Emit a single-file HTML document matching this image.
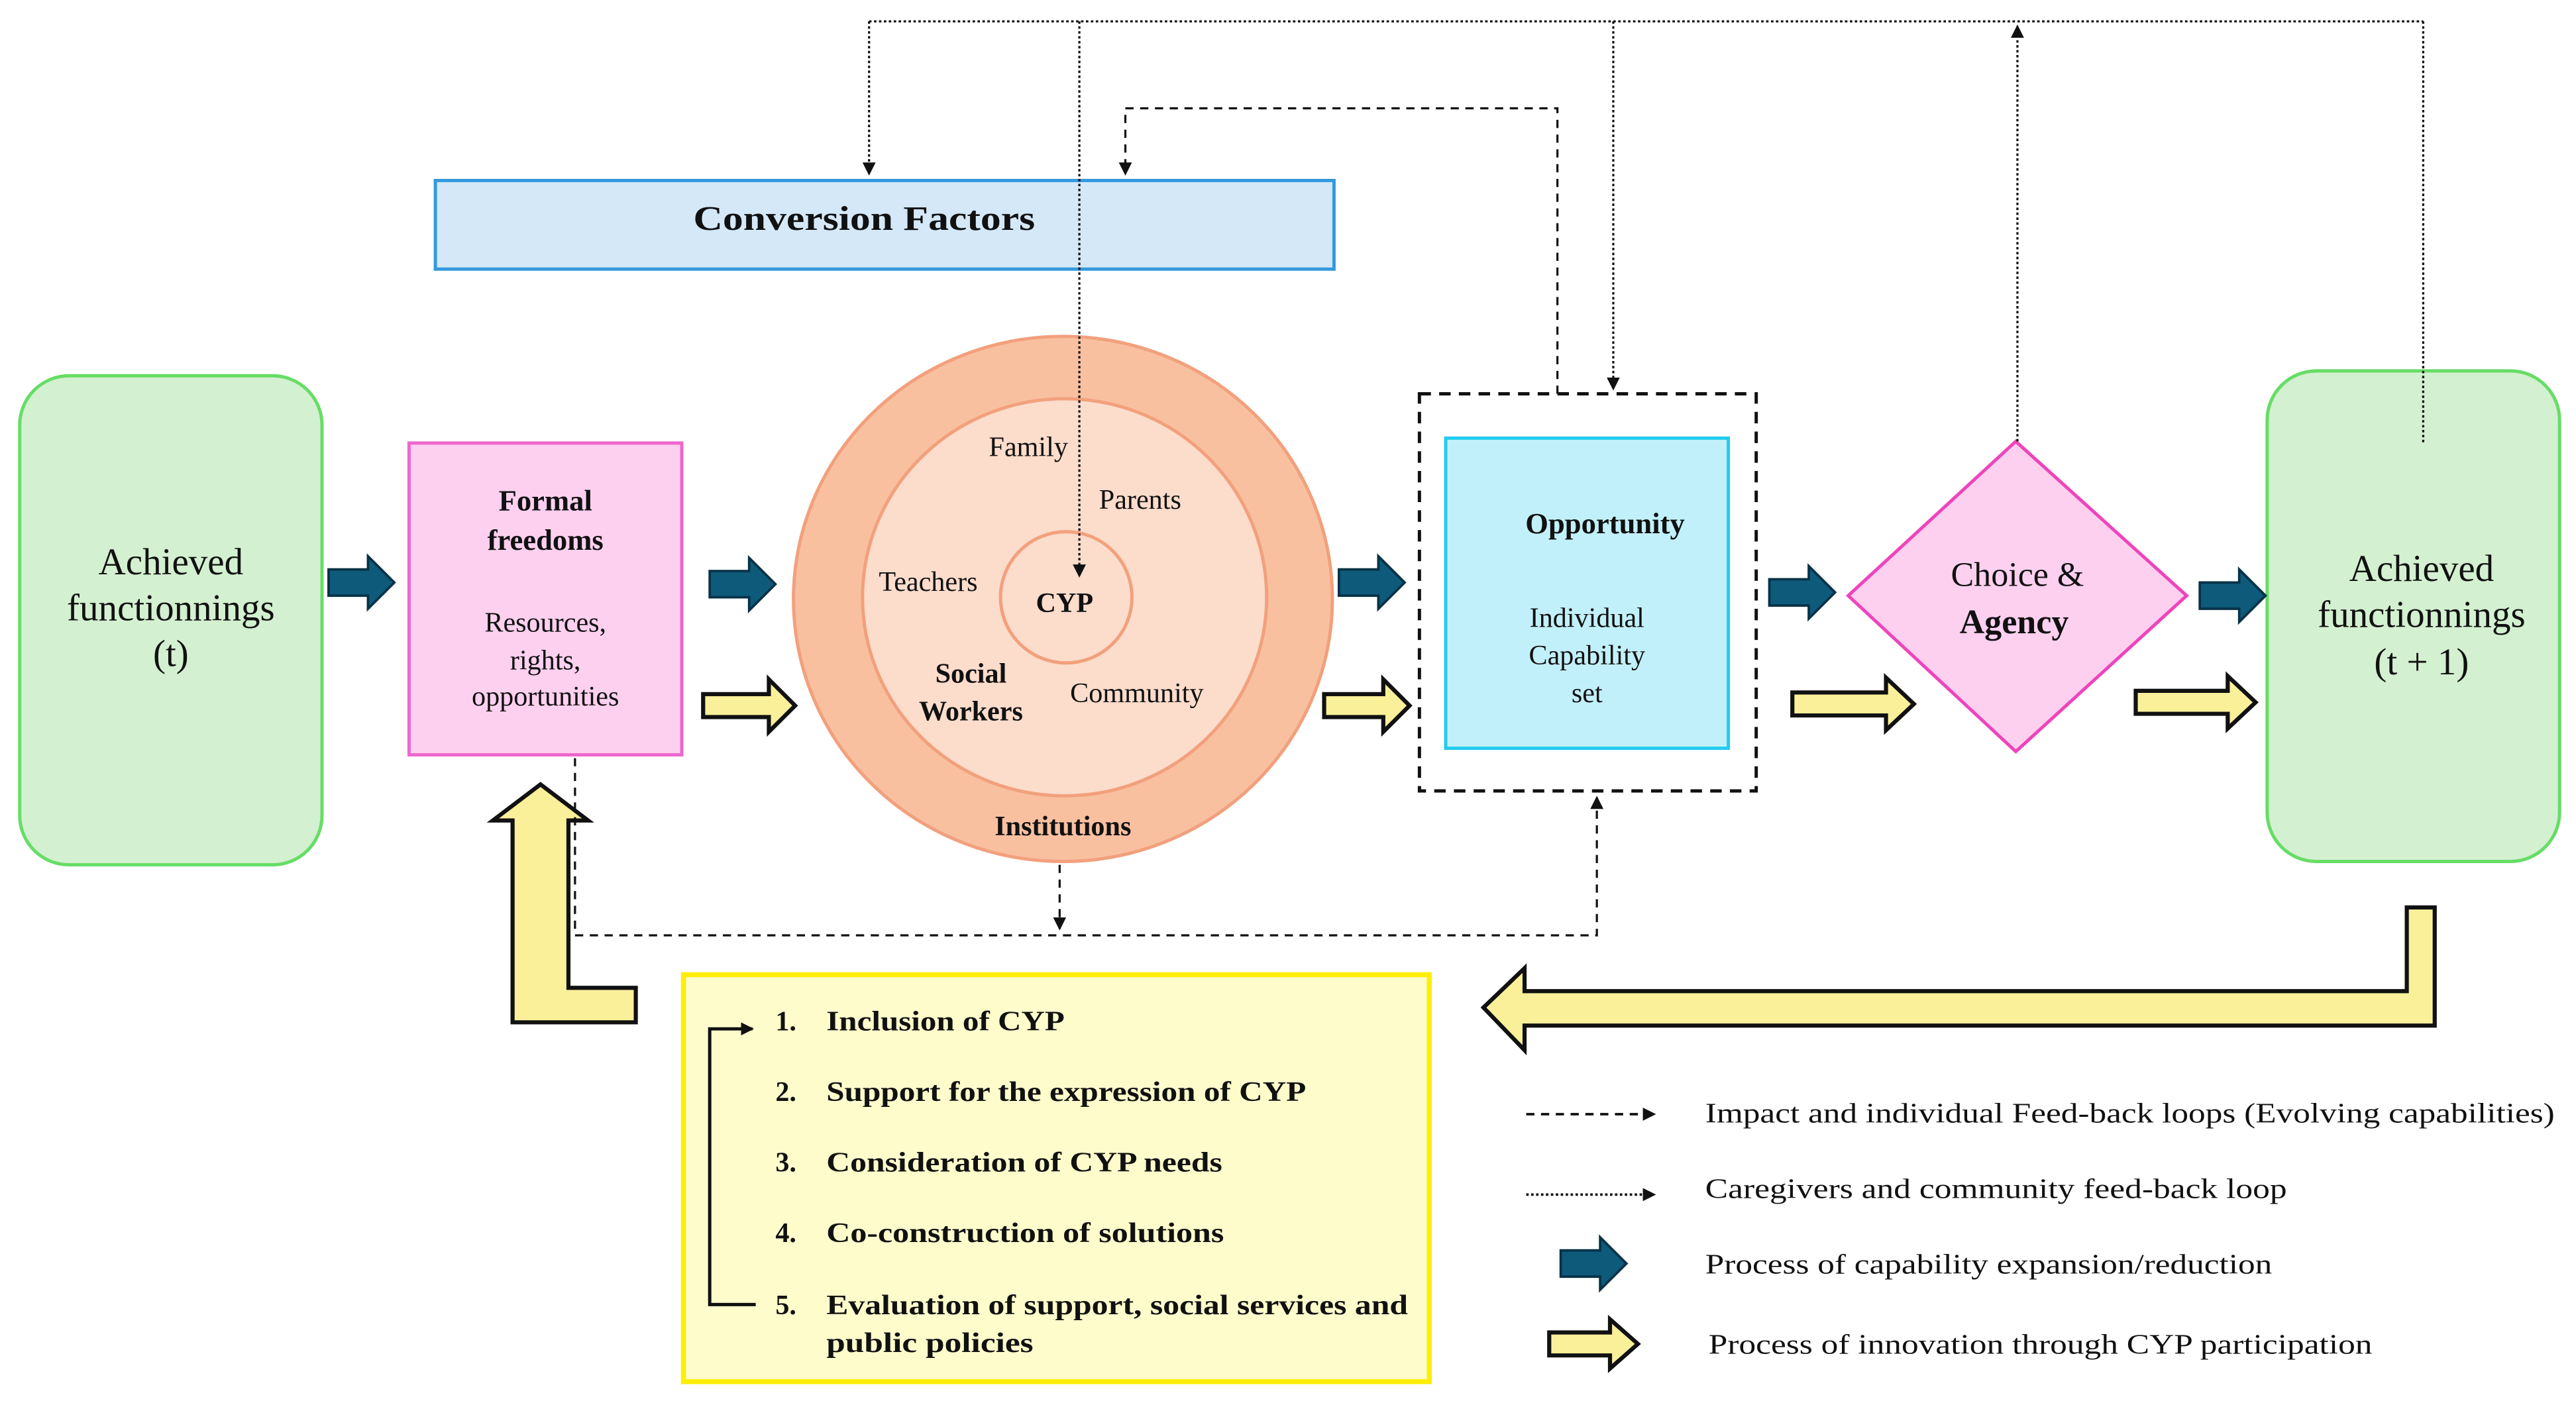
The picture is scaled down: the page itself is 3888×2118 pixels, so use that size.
<!DOCTYPE html>
<html><head><meta charset="utf-8"><style>
html,body{margin:0;padding:0;background:#fff;}
svg{display:block;}
text{font-family:"Liberation Serif","DejaVu Serif",serif;fill:#111;}
</style></head><body>
<svg width="3888" height="2118" viewBox="0 0 1568 855" preserveAspectRatio="none" xmlns="http://www.w3.org/2000/svg">
<defs>
<marker id="ah" markerWidth="8" markerHeight="8" refX="7" refY="4" orient="auto" markerUnits="userSpaceOnUse"><path d="M0,0 L8,4 L0,8 Z" fill="#111"/></marker>
<g id="barrow"><path d="M0,-8 L24,-8 L24,-16 L40,0 L24,16 L24,8 L0,8 Z" fill="#0e5a7a" stroke="#073247" stroke-width="1.5"/></g>
</defs>
<rect x="12" y="229" width="184" height="298" rx="30" fill="#d3f0d0" stroke="#66dd66" stroke-width="2"/>
<text x="104" y="350" font-size="23" text-anchor="middle">Achieved</text>
<text x="104" y="378" font-size="23" text-anchor="middle">functionnings</text>
<text x="104" y="406" font-size="23" text-anchor="middle">(t)</text>

<rect x="249" y="270" width="166" height="190" fill="#fdd0f0" stroke="#ee66cc" stroke-width="2"/>
<text x="332" y="311" font-size="18" font-weight="bold" text-anchor="middle">Formal</text>
<text x="332" y="335" font-size="18" font-weight="bold" text-anchor="middle">freedoms</text>
<text x="332" y="385" font-size="17" text-anchor="middle">Resources,</text>
<text x="332" y="408" font-size="17" text-anchor="middle">rights,</text>
<text x="332" y="430" font-size="17" text-anchor="middle">opportunities</text>

<rect x="265" y="110" width="547" height="54" fill="#d4e8f8" stroke="#3399dd" stroke-width="2"/>
<text x="422" y="140" font-size="21" font-weight="bold" textLength="208" lengthAdjust="spacingAndGlyphs">Conversion Factors</text>

<ellipse cx="647" cy="365" rx="164" ry="160" fill="#f9c0a0" stroke="#f2a07c" stroke-width="2"/>
<ellipse cx="648" cy="364" rx="123" ry="121" fill="#fcdccb" stroke="#f2a07c" stroke-width="2"/>
<circle cx="649" cy="364" r="40" fill="#fcdccb" stroke="#f2a07c" stroke-width="2"/>
<text x="648" y="373" font-size="17" font-weight="bold" text-anchor="middle">CYP</text>
<text x="626" y="278" font-size="17" text-anchor="middle">Family</text>
<text x="694" y="310" font-size="17" text-anchor="middle">Parents</text>
<text x="565" y="360" font-size="17" text-anchor="middle">Teachers</text>
<text x="591" y="416" font-size="17" font-weight="bold" text-anchor="middle">Social</text>
<text x="591" y="439" font-size="17" font-weight="bold" text-anchor="middle">Workers</text>
<text x="692" y="428" font-size="17" text-anchor="middle">Community</text>
<text x="647" y="509" font-size="17" font-weight="bold" text-anchor="middle">Institutions</text>

<rect x="864" y="240" width="205" height="242" fill="none" stroke="#111" stroke-width="2" stroke-dasharray="7,5"/>
<rect x="880" y="267" width="172" height="189" fill="#c2f0fa" stroke="#22ccee" stroke-width="2"/>
<text x="977" y="325" font-size="18" font-weight="bold" text-anchor="middle">Opportunity</text>
<text x="966" y="382" font-size="17" text-anchor="middle">Individual</text>
<text x="966" y="405" font-size="17" text-anchor="middle">Capability</text>
<text x="966" y="428" font-size="17" text-anchor="middle">set</text>

<path d="M1227,269 L1331,363 L1227,458 L1125,363 Z" fill="#fdd0f0" stroke="#ee44bb" stroke-width="2"/>
<text x="1228" y="357" font-size="21" text-anchor="middle">Choice &amp;</text>
<text x="1226" y="386" font-size="21" font-weight="bold" text-anchor="middle">Agency</text>

<rect x="1380" y="226" width="178" height="299" rx="30" fill="#d3f0d0" stroke="#66dd66" stroke-width="2"/>
<text x="1474" y="354" font-size="23" text-anchor="middle">Achieved</text>
<text x="1474" y="382" font-size="23" text-anchor="middle">functionnings</text>
<text x="1474" y="411" font-size="23" text-anchor="middle">(t + 1)</text>

<use href="#barrow" x="200" y="355"/>
<use href="#barrow" x="432" y="356"/>
<use href="#barrow" x="815" y="355"/>
<use href="#barrow" x="1077" y="361"/>
<use href="#barrow" x="1339" y="363"/>
<g fill="#faf09a" stroke="#111" stroke-width="2.5">
<path d="M428,423 L468,423 L468,414 L484,430 L468,446 L468,437 L428,437 Z"/>
<path d="M806,423 L842,423 L842,414 L858,430 L842,446 L842,437 L806,437 Z"/>
<path d="M1091,422 L1148,422 L1148,413 L1165,429 L1148,445 L1148,436 L1091,436 Z"/>
<path d="M1300,421 L1356,421 L1356,412 L1373,428 L1356,444 L1356,435 L1300,435 Z"/>
<path d="M387,602 L387,623 L312,623 L312,500 L300,500 L329,478 L358,500 L346,500 L346,602 Z"/>
<path d="M1482,553 L1482,625 L928,625 L928,640 L903,614 L928,590 L928,604 L1465,604 L1465,553 Z"/>
</g>
<rect x="416" y="594" width="454" height="248" fill="#fffccc" stroke="#ffee00" stroke-width="3"/>
<path d="M460,795 L432,795 L432,627 L458,627" fill="none" stroke="#111" stroke-width="2" marker-end="url(#ah)"/>
<g font-size="17" font-weight="bold" lengthAdjust="spacingAndGlyphs">
<text x="472" y="628">1.</text><text x="503" y="628" textLength="145" lengthAdjust="spacingAndGlyphs">Inclusion of CYP</text>
<text x="472" y="671">2.</text><text x="503" y="671" textLength="292" lengthAdjust="spacingAndGlyphs">Support for the expression of CYP</text>
<text x="472" y="714">3.</text><text x="503" y="714" textLength="241" lengthAdjust="spacingAndGlyphs">Consideration of CYP needs</text>
<text x="472" y="757">4.</text><text x="503" y="757" textLength="242" lengthAdjust="spacingAndGlyphs">Co-construction of solutions</text>
<text x="472" y="801">5.</text><text x="503" y="801" textLength="354" lengthAdjust="spacingAndGlyphs">Evaluation of support, social services and</text>
<text x="503" y="824" textLength="126" lengthAdjust="spacingAndGlyphs">public policies</text>
</g>
<path d="M929,679 L1007,679" stroke="#111" stroke-width="1.5" stroke-dasharray="5,4" marker-end="url(#ah)"/>
<text x="1038" y="684" font-size="17" textLength="517" lengthAdjust="spacingAndGlyphs">Impact and individual Feed-back loops (Evolving capabilities)</text>
<path d="M929,728 L1007,728" stroke="#111" stroke-width="1.5" stroke-dasharray="1.5,1.5" marker-end="url(#ah)"/>
<text x="1038" y="730" font-size="17" textLength="354" lengthAdjust="spacingAndGlyphs">Caregivers and community feed-back loop</text>
<use href="#barrow" x="950" y="770"/>
<text x="1038" y="776" font-size="17" textLength="345" lengthAdjust="spacingAndGlyphs">Process of capability expansion/reduction</text>
<path d="M943,812 L980,812 L980,804 L997,819 L980,834 L980,826 L943,826 Z" fill="#faf09a" stroke="#111" stroke-width="2.5"/>
<text x="1040" y="825" font-size="17" textLength="404" lengthAdjust="spacingAndGlyphs">Process of innovation through CYP participation</text>

<g fill="none" stroke="#111" stroke-width="1.3" stroke-dasharray="1.5,1.5">
<path d="M529,13 L1475,13"/>
<path d="M529,13 L529,106" marker-end="url(#ah)"/>
<path d="M657,13 L657,351" marker-end="url(#ah)"/>
<path d="M982,13 L982,237" marker-end="url(#ah)"/>
<path d="M1228,269 L1228,16" marker-end="url(#ah)"/>
<path d="M1475,13 L1475,270"/>
</g>
<g fill="none" stroke="#111" stroke-width="1.3" stroke-dasharray="5,4">
<path d="M948,240 L948,66 L685,66 L685,106" marker-end="url(#ah)"/>
<path d="M350,462 L350,570 L972,570 L972,486" marker-end="url(#ah)"/>
<path d="M645,527 L645,566" marker-end="url(#ah)"/>
</g>
</svg>
</body></html>
